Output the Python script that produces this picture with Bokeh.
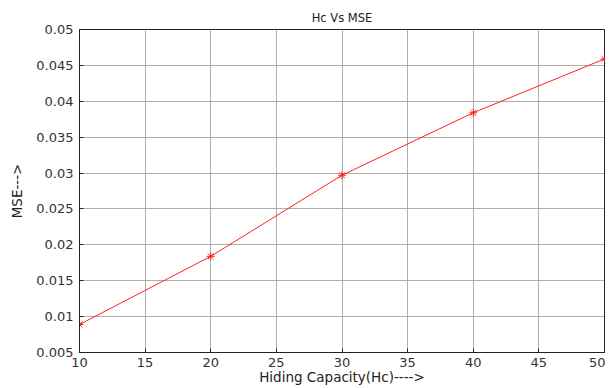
from bokeh.plotting import figure
from bokeh.models import Range1d, FixedTicker
from bokeh.embed import file_html
from bokeh.resources import INLINE

hc = [10, 20, 30, 40, 50]
mse = [0.0089, 0.0184, 0.0297, 0.0384, 0.0459]
x_ticks = [10, 15, 20, 25, 30, 35, 40, 45, 50]
y_ticks = [0.005, 0.01, 0.015, 0.02, 0.025, 0.03, 0.035, 0.04, 0.045, 0.05]

FONT = "DejaVu Sans"

p = figure(width=605, height=387, output_backend="svg", toolbar_location=None,
           x_range=Range1d(10, 50), y_range=Range1d(0.005, 0.05),
           title="Hc Vs MSE", min_border_left=79, min_border_right=1,
           min_border_top=29, min_border_bottom=35)

p.title.align = "center"
p.title.text_font = FONT
p.title.text_font_size = "11.5px"
p.title.text_font_style = "normal"
p.title.text_color = "#222222"
p.title.standoff = 10

p.line(hc, mse, color="#ff2020", line_width=1)
p.scatter(hc, mse, marker="asterisk", size=8, color="#ff2020", line_width=1)

for ax in (p.xaxis[0], p.yaxis[0]):
    ax.major_tick_in = 4
    ax.major_tick_out = 0
    ax.minor_tick_in = 0
    ax.minor_tick_out = 0
    ax.major_label_text_font = FONT
    ax.major_label_text_font_size = "13px"
    ax.major_label_text_color = "#333333"
    ax.axis_label_text_font = FONT
    ax.axis_label_text_font_size = "13.5px"
    ax.axis_label_text_font_style = "normal"
    ax.axis_label_text_color = "#222222"
    ax.axis_line_color = "#222222"
    ax.major_tick_line_color = "#222222"

p.xaxis.ticker = FixedTicker(ticks=x_ticks)
p.yaxis.ticker = FixedTicker(ticks=y_ticks)
p.yaxis.major_label_overrides = {v: ("%g" % v) for v in y_ticks}
p.xaxis.axis_label = "Hiding Capacity(Hc)---->"
p.yaxis.axis_label = "MSE--->"
p.xaxis.major_label_standoff = 5
p.xaxis.axis_label_standoff = -1
p.yaxis.major_label_standoff = 6
p.yaxis.axis_label_standoff = 8

p.grid.grid_line_color = "#9a9a9a"
p.grid.grid_line_alpha = 0.8
p.outline_line_color = "#222222"
p.outline_line_alpha = 1

p.xgrid.ticker = FixedTicker(ticks=x_ticks)
p.ygrid.ticker = FixedTicker(ticks=y_ticks)

open("out.html", "w").write(file_html(p, INLINE))
